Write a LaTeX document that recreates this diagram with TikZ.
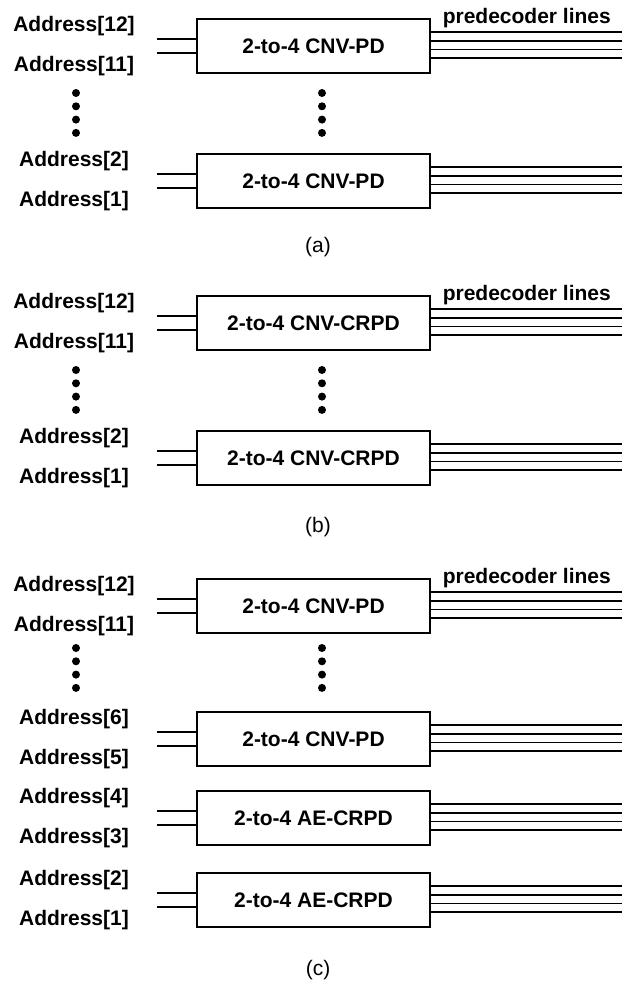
\documentclass[tikz,border=0pt]{standalone}
\usepackage{fontspec}
\setmainfont{Liberation Sans}
\usepackage{tikz}
\usetikzlibrary{positioning, calc}

\tikzset{
    decbox/.style={draw, line width=1.6pt, minimum width=233pt, minimum height=54pt, inner sep=0pt,
        font=\fontsize{21}{25}\selectfont\bfseries},
    addr/.style={inner sep=0pt, font=\fontsize{21}{25}\selectfont\bfseries},
    caption/.style={inner sep=0pt, font=\fontsize{21}{25}\selectfont},
    wire/.style={line width=1.6pt}
}

\begin{document}
\begin{tikzpicture}[x=1pt, y=-1pt]
    \useasboundingbox (0,0) rectangle (629,983);
    % decoder blocks: name / top / kind / upper and lower address bit
    \foreach \n/\t/\kind/\hi/\lo in {a1/19/CNV-PD/12/11, a2/154/CNV-PD/2/1,
        b1/296/CNV-CRPD/12/11, b2/431/CNV-CRPD/2/1,
        c1/579/CNV-PD/12/11, c2/712/CNV-PD/6/5, c3/791/AE-CRPD/4/3, c4/873/AE-CRPD/2/1}
    {
        \node[decbox] (\n) at (313.5,\t+27) {2-to-4 \kind};
        \node[addr] (\n-hi) at (74,\t+7) {Address[\hi]};
        \node[addr] (\n-lo) at (74,\t+47) {Address[\lo]};
        \coordinate (\n-i1) at (157,\t+20);
        \coordinate (\n-i2) at (157,\t+34);
        \draw[wire] (\n-i1) -- (\n-i1 -| \n.west);
        \draw[wire] (\n-i2) -- (\n-i2 -| \n.west);
        \foreach \k/\dy in {1/13, 2/21.7, 3/30.3, 4/39} {
            \coordinate (\n-o\k) at (622,\t+\dy);
            \draw[wire] (\n-o\k -| \n.east) -- (\n-o\k);
        }
    }
    \foreach \p in {a1,b1,c1}
        \node[addr] (\p-pl) at ([xshift=96pt]\p.north east) {predecoder lines};
    % vertical dots
    \foreach \y in {93,370,648}
        \foreach \i in {0,...,3} {
            \fill (76,\y+13.3*\i) circle (4pt);
            \fill (322,\y+13.3*\i) circle (4pt);
        }
    \node[caption] (capa) at (318,247) {(a)};
    \node[caption] (capb) at (318,527) {(b)};
    \node[caption] (capc) at (318,970) {(c)};
\end{tikzpicture}
\end{document}
